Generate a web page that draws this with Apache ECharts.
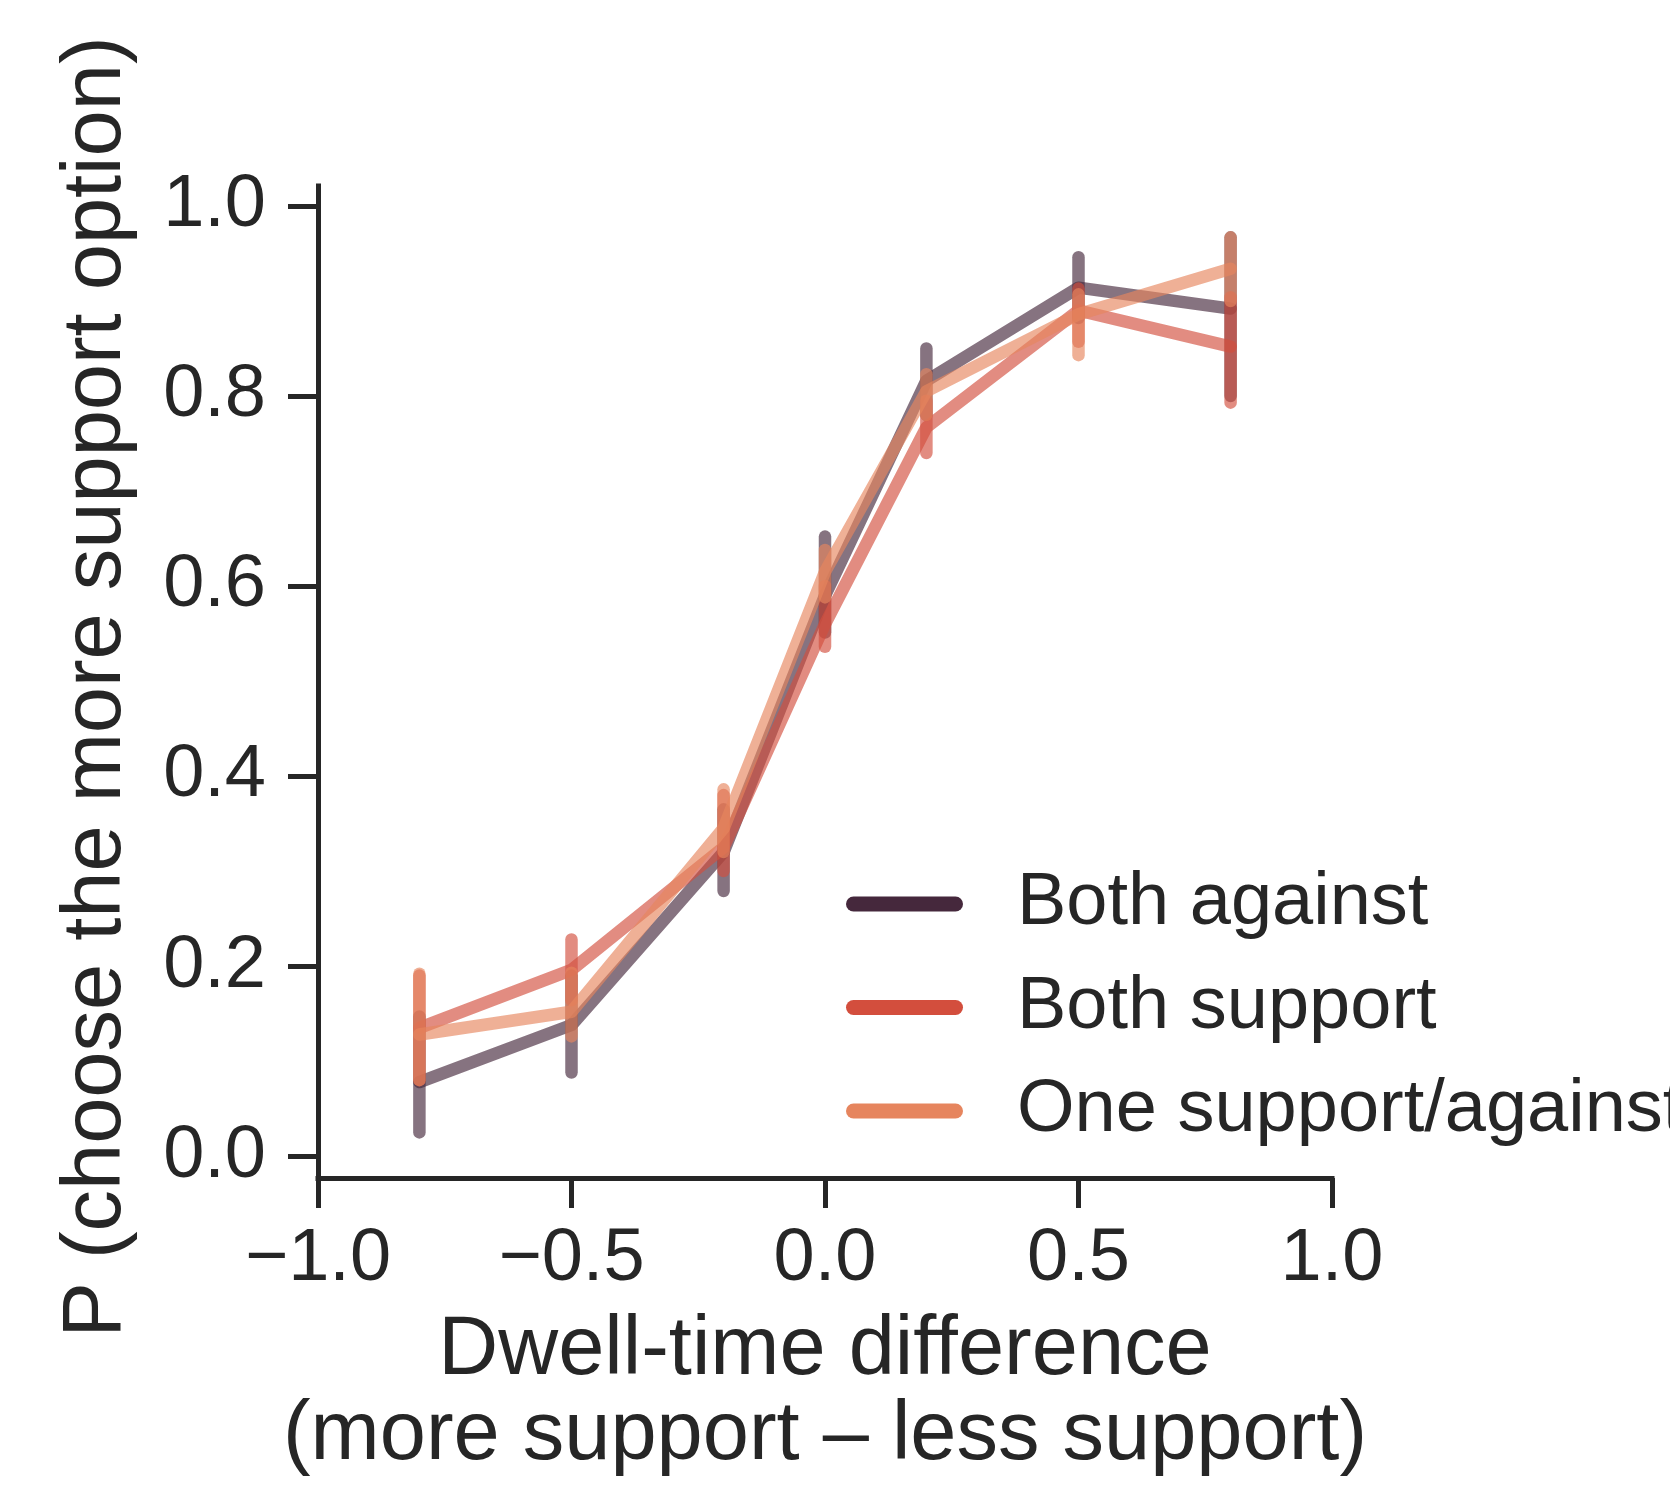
<!DOCTYPE html>
<html>
<head>
<meta charset="utf-8">
<script src="https://cdn.jsdelivr.net/npm/echarts@6/dist/echarts.min.js"></script>
<style>
  html, body { margin: 0; padding: 0; background: #ffffff; }
  #chart { width: 1670px; height: 1485px; }
</style>
</head>
<body>
<div id="chart"></div>
<script>
// ---- data ----
const xValues = [-0.8, -0.5, -0.2, 0.0, 0.2, 0.5, 0.8];
const seriesNames = ['Both against', 'Both support', 'One support/against'];

const bothAgainst   = [0.078, 0.138, 0.320, 0.590, 0.816, 0.914, 0.892];
const bothAgainstLo = [0.025, 0.088, 0.279, 0.551, 0.780, 0.882, 0.800];
const bothAgainstHi = [0.147, 0.190, 0.365, 0.652, 0.850, 0.946, 0.967];

const bothSupport   = [0.135, 0.196, 0.325, 0.560, 0.767, 0.890, 0.852];
const bothSupportLo = [0.080, 0.164, 0.300, 0.536, 0.740, 0.857, 0.793];
const bothSupportHi = [0.190, 0.228, 0.380, 0.600, 0.795, 0.913, 0.904];

const oneSupport    = [0.128, 0.152, 0.345, 0.615, 0.805, 0.886, 0.934];
const oneSupportLo  = [0.080, 0.126, 0.320, 0.588, 0.780, 0.843, 0.900];
const oneSupportHi  = [0.192, 0.193, 0.386, 0.638, 0.823, 0.907, 0.967];

const yTickValues = [0.0, 0.2, 0.4, 0.6, 0.8, 1.0];
const xTickValues = [-1.0, -0.5, 0.0, 0.5, 1.0];

// ---- style ----
const colors = ['#45283c', '#d34e3d', '#e6855e'];
const textColor = '#262626';
const fontFamily = '"Liberation Sans", Arial, sans-serif';
const LW = 12.5;
const ALPHA = 0.65;

const groups = [
  [bothAgainst, bothAgainstLo, bothAgainstHi],
  [bothSupport, bothSupportLo, bothSupportHi],
  [oneSupport, oneSupportLo, oneSupportHi]
];

const series = [];
groups.forEach((g, i) => {
  const [mean, lo, hi] = g;
  series.push({
    name: seriesNames[i],
    type: 'line',
    data: xValues.map((x, j) => [x, mean[j]]),
    showSymbol: false,
    symbol: 'none',
    silent: true,
    animation: false,
    z: 2 + i * 2,
    itemStyle: { color: colors[i] },
    lineStyle: { color: colors[i], width: LW, opacity: ALPHA, cap: 'round', join: 'round' }
  });
  series.push({
    name: seriesNames[i],
    type: 'custom',
    data: xValues.map((x, j) => [x, lo[j], hi[j]]),
    encode: { x: 0, y: [1, 2] },
    silent: true,
    animation: false,
    z: 3 + i * 2,
    itemStyle: { color: colors[i] },
    renderItem: function (params, api) {
      const p1 = api.coord([api.value(0), api.value(1)]);
      const p2 = api.coord([api.value(0), api.value(2)]);
      return {
        type: 'line',
        shape: { x1: p1[0], y1: p1[1], x2: p2[0], y2: p2[1] },
        style: { stroke: colors[i], lineWidth: LW, lineCap: 'round', opacity: ALPHA, fill: null }
      };
    }
  });
});

const iconPath = 'path://M7.5,0 L109.5,0 A7.5,7.5 0 0 1 109.5,15 L7.5,15 A7.5,7.5 0 0 1 7.5,0 Z';

const option = {
  backgroundColor: '#ffffff',
  animation: false,
  grid: { left: 318, right: 338, top: 186, bottom: 307, containLabel: false },
  legend: {
    orient: 'vertical',
    left: 846,
    top: 867,
    padding: 0,
    itemWidth: 117,
    itemHeight: 15,
    itemGap: 29.5,
    selectedMode: false,
    textStyle: { fontSize: 74, fontFamily: fontFamily, color: textColor, padding: [0, 0, 0, 49], lineHeight: 74 },
    data: seriesNames.map((n, i) => ({
      name: n,
      icon: iconPath,
      itemStyle: { color: colors[i], opacity: 1, borderWidth: 0 }
    }))
  },
  xAxis: {
    type: 'value',
    min: -1,
    max: 1,
    interval: 0.5,
    name: 'Dwell-time difference\n(more support – less support)',
    nameLocation: 'middle',
    nameGap: 131,
    nameTextStyle: { fontSize: 83, fontFamily: fontFamily, color: textColor, lineHeight: 85 },
    axisLine: { show: true, onZero: false, lineStyle: { color: textColor, width: 5, cap: 'square' } },
    axisTick: { show: true, inside: false, length: 30, lineStyle: { color: textColor, width: 5 } },
    axisLabel: {
      fontSize: 74, fontFamily: fontFamily, color: textColor, margin: 45,
      formatter: v => (v < 0 ? '\u2212' : '') + Math.abs(v).toFixed(1)
    },
    splitLine: { show: false }
  },
  yAxis: {
    type: 'value',
    min: -0.023,
    max: 1.021,
    name: 'P (choose the more support option)',
    nameLocation: 'middle',
    nameGap: 179,
    nameRotate: 90,
    nameTextStyle: { fontSize: 83, fontFamily: fontFamily, color: textColor, padding: [0, 10, 0, 0] },
    axisLine: { show: true, onZero: false, lineStyle: { color: textColor, width: 5, cap: 'square' } },
    axisTick: { show: true, inside: false, length: 30, customValues: yTickValues, lineStyle: { color: textColor, width: 5 } },
    axisLabel: {
      fontSize: 74, fontFamily: fontFamily, color: textColor, margin: 52,
      customValues: yTickValues,
      formatter: v => v.toFixed(1)
    },
    splitLine: { show: false }
  },
  series: series
};

const chart = echarts.init(document.getElementById('chart'), null, { renderer: 'canvas' });
chart.setOption(option);
</script>
</body>
</html>
